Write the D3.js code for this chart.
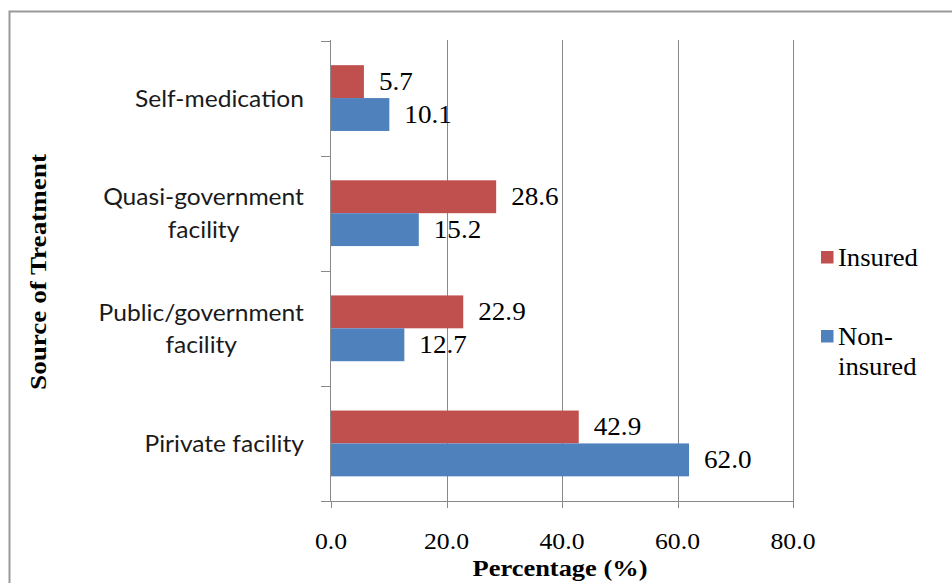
<!DOCTYPE html>
<html><head><meta charset="utf-8">
<script src="https://cdn.jsdelivr.net/npm/d3@7"></script>
<style>body{margin:0;background:#fff}svg{display:block}</style>
</head><body>
<script>
const categories = ["Self-medication", "Quasi-government facility", "Public/government facility", "Pirivate facility"];
const categoryLines = [["Self-medication"], ["Quasi-government", "facility"], ["Public/government", "facility"], ["Pirivate facility"]];
const seriesNames = ["Insured", "Non-insured"];
const legendLines = [["Insured"], ["Non-", "insured"]];
const insured = [5.7, 28.6, 22.9, 42.9];
const nonInsured = [10.1, 15.2, 12.7, 62.0];
const xTicks = [0, 20, 40, 60, 80];
const colors = ["#C0504D", "#4F81BD"];

const W = 952, H = 583;
const SERIF = "'Liberation Serif', 'Times New Roman', serif";
const SANS = "Lato, 'Open Sans', sans-serif";
const svg = d3.select("body").append("svg").attr("width", W).attr("height", H);

// measure helper for horizontal stretch (reference glyphs are wide)
function measure(txt, family, size, weight) {
  const t = svg.append("text").attr("font-family", family).attr("font-size", size)
    .attr("font-weight", weight || "normal").text(txt);
  const w = t.node().getComputedTextLength();
  t.remove();
  return w;
}
const sxCat = 169 / measure("Self-medication", SANS, 23);
const sxTick = 45 / measure("80.0", SERIF, 24);
const sxVal = 47.5 / measure("28.6", SERIF, 25);
const sxLeg = 80 / measure("Insured", SERIF, 25);
const sxXT = 175 / measure("Percentage (%)", SERIF, 23, "bold");
const sxYT = 236 / measure("Source of Treatment", SERIF, 24, "bold");

function sText(parent, x, y, sx, rot) {
  return parent.append("text")
    .attr("transform", `translate(${x},${y})${rot ? " rotate(" + rot + ")" : ""} scale(${sx},1)`);
}

// outer frame
svg.append("path").attr("d", `M9.5,${H} V11.5 H${W}`).attr("fill", "none").attr("stroke", "#999").attr("stroke-width", 2);

const x = d3.scaleLinear().domain([0, 80]).range([331, 793]);
const y = d3.scaleBand().domain(categories).range([40.5, 501]);
const inner = d3.scaleBand().domain(seriesNames).range([0, y.bandwidth()]).paddingOuter(0.75).paddingInner(0);

const px = v => Math.round(v) + 0.5;

// gridlines
svg.append("g").selectAll("line").data(xTicks.slice(1)).join("line")
  .attr("x1", d => px(x(d))).attr("x2", d => px(x(d)))
  .attr("y1", 40).attr("y2", 501).attr("stroke", "#898989");

// bars + value labels
const g = svg.append("g");
categories.forEach((c, i) => {
  [insured[i], nonInsured[i]].forEach((v, j) => {
    const s = seriesNames[j];
    const by = y(c) + inner(s);
    g.append("rect").attr("x", x(0)).attr("y", by)
      .attr("width", x(v) - x(0)).attr("height", inner.bandwidth())
      .attr("fill", colors[j]);
    sText(g, x(v) + 15, by + inner.bandwidth() / 2 + 8.5, sxVal)
      .attr("font-family", SERIF).attr("font-size", 25).attr("fill", "#000")
      .text(v.toFixed(1));
  });
});

// axis lines
svg.append("line").attr("x1", 330.5).attr("x2", 330.5).attr("y1", 40).attr("y2", 501).attr("stroke", "#898989");
svg.append("line").attr("x1", 321).attr("x2", 794).attr("y1", 501.5).attr("y2", 501.5).attr("stroke", "#898989");
const catTicks = categories.map(c => y(c)).concat([501]);
svg.append("g").selectAll("line").data(catTicks).join("line")
  .attr("x1", 321).attr("x2", 331).attr("y1", d => px(d)).attr("y2", d => px(d))
  .attr("stroke", "#898989");
svg.append("g").selectAll("line").data(xTicks).join("line")
  .attr("x1", d => px(x(d))).attr("x2", d => px(x(d)))
  .attr("y1", 501).attr("y2", 508).attr("stroke", "#898989");

// x tick labels
xTicks.forEach(d => {
  sText(svg, x(d), 549, sxTick).attr("text-anchor", "middle")
    .attr("font-family", SERIF).attr("font-size", 24).attr("fill", "#000").text(d.toFixed(1));
});

// category labels: block right-aligned at 304, lines centred within block
categories.forEach((c, i) => {
  const lines = categoryLines[i];
  const widths = lines.map(l => measure(l, SANS, 23) * sxCat);
  const bw = d3.max(widths);
  const cx = 304 - bw / 2;
  const cy = y(c) + y.bandwidth() / 2;
  lines.forEach((l, k) => {
    sText(svg, cx, cy + 8.5 + (k - (lines.length - 1) / 2) * 32.4, sxCat)
      .attr("text-anchor", "middle").attr("font-family", SANS).attr("font-size", 23)
      .attr("fill", "#1a1a1a").text(l);
  });
});

// axis titles
sText(svg, 46, 272, sxYT, -90).attr("text-anchor", "middle")
  .attr("font-family", SERIF).attr("font-weight", "bold").attr("font-size", 24).text("Source of Treatment");
sText(svg, 560, 576, sxXT).attr("text-anchor", "middle")
  .attr("font-family", SERIF).attr("font-weight", "bold").attr("font-size", 23).text("Percentage (%)");

// legend
const legY = [251, 330];
seriesNames.forEach((n, i) => {
  svg.append("rect").attr("x", 821).attr("y", legY[i]).attr("width", 12.5).attr("height", 12.5).attr("fill", colors[i]);
  legendLines[i].forEach((s, k) => {
    sText(svg, 838, legY[i] + 14.5 + k * 30.7, sxLeg)
      .attr("font-family", SERIF).attr("font-size", 25).attr("fill", "#000").text(s);
  });
});
</script>
</body></html>
